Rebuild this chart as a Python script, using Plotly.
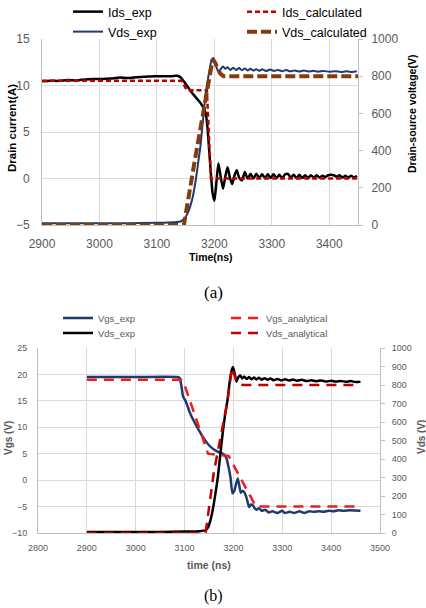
import plotly.graph_objects as go

# ---------------- (a) data ----------------
t_ids_exp = [2900,2915,2930,2945,2960,2975,2990,3005,3020,3035,3050,3065,3080,3095,3110,3125,3135,3141,3146,3152,
             3160,3168,3175,3181,3185,3188,3191,3194,3197,3200,3203,3207,3211,3215,3219,3223,3227,3231,3235,3239,
             3243,3248,3253,3258,3263,3268,3273,3278,3283,3288,3293,3298,3303,3308,3313,3318,3323,3328,3333,3338,
             3343,3348,3353,3358,3363,3368,3373,3378,3383,3388,3393,3398,3403,3408,3413,3418,3423,3428,3433,3438,
             3443,3448]
ids_exp = [10.45,10.5,10.5,10.6,10.55,10.65,10.7,10.7,10.75,10.85,10.8,10.9,10.95,11.0,11.0,11.0,11.05,10.9,10.5,10.0,
           9.3,8.7,8.2,7.6,7.0,5.5,3.0,0.5,-1.6,-2.4,-0.8,1.6,0.2,-1.1,0.2,1.2,0.1,-0.6,0.3,0.9,
           0.1,-0.2,0.7,0.0,0.5,0.0,0.5,0.05,0.45,0.05,0.45,0.05,0.45,0.05,0.4,0.05,0.45,0.5,0.1,0.4,
           0.05,0.4,0.05,0.35,0.05,0.35,0.1,0.35,0.1,0.3,0.15,0.35,0.4,0.35,0.2,0.35,0.1,0.3,0.1,0.3,
           0.1,0.3]

t_vds_exp_a = [2900,2950,3000,3050,3100,3130,3142,3148,3153,3158,3163,3168,3172,3176,3180,3184,3188,3192,3195,3198,
               3201,3204,3207,3211,3215,3219,3223,3228,3233,3238,3243,3248,3253,3258,3263,3268,3273,3278,3283,3290,
               3297,3304,3311,3318,3325,3332,3340,3348,3356,3364,3372,3380,3390,3400,3410,3420,3430,3440,3448]
vds_exp_a = [10,10,10,10,12,15,20,35,60,100,160,250,340,430,560,680,770,840,885,898,
             880,845,825,838,852,840,848,834,846,833,844,832,842,831,840,830,838,829,837,828,
             836,828,834,827,833,826,831,825,830,825,829,824,828,824,827,823,826,823,826]

t_ids_calc = [2900,3143,3152,3187,3194,3450]
ids_calc = [10.5,10.5,9.5,9.5,0,0]

t_vds_calc = [2900,3147,3165,3180,3190,3197,3201,3205,3210,3216,3450]
vds_calc = [0,0,330,580,770,890,875,845,815,800,800]

# ---------------- (b) data ----------------
t_vgs_exp = [2900,3000,3085,3090,3094,3097,3102,3106,3112,3120,3130,3140,3150,3160,3170,3180,3185,3190,3194,3198,
             3202,3206,3209,3212,3215,3219,3223,3227,3232,3236,3240,3244,3248,3252,3258,3265,3272,3280,3290,3300,
             3305,3315,3325,3335,3345,3355,3365,3375,3385,3395,3405,3415,3425,3440,3460]
vgs_exp = [19.5,19.5,19.5,19.3,17.5,15.8,15.0,14.0,12.5,11.0,9.3,7.8,6.6,5.8,5.3,4.9,4.3,2.5,0.5,-2.5,
           -2.0,-0.5,0.3,-1.0,-2.4,-2.0,-2.4,-3.4,-5.1,-4.6,-4.8,-5.4,-5.6,-5.3,-5.8,-5.6,-6.1,-5.9,-6.2,-5.8,
           -6.2,-6.0,-6.2,-5.9,-6.2,-5.9,-6.0,-5.9,-6.0,-5.8,-5.9,-5.7,-5.8,-5.7,-5.8]

t_vds_exp_b = [2900,2950,3000,3050,3100,3130,3143,3148,3153,3158,3163,3168,3173,3178,3183,3188,3192,3196,3199,3202,
               3206,3210,3214,3218,3222,3227,3232,3237,3242,3247,3252,3258,3264,3270,3276,3282,3290,3298,3306,3314,
               3322,3330,3340,3350,3360,3370,3380,3390,3400,3410,3420,3430,3440,3450,3460]
vds_exp_b = [5,5,6,6,8,10,15,30,70,130,210,300,420,540,640,720,810,875,897,870,
             818,842,852,835,846,832,843,831,841,830,839,829,837,828,835,826,833,825,831,824,
             830,823,828,821,826,820,825,819,823,818,822,817,821,816,818]

t_vgs_an = [2900,3093,3100,3148,3165,3190,3246,3455]
vgs_an = [19,19,18,5,4.8,4.6,-5,-5]

t_vds_an = [2900,3143,3160,3176,3187,3197,3205,3215,3455]
vds_an = [0,0,330,550,700,892,830,800,800]

W, H = 426, 608
def py(y):
    return 1 - y / H
def px(x):
    return x / W

NAVY = "#1F3A6E"
fig = go.Figure()

# (a)
fig.add_trace(go.Scatter(x=t_ids_exp, y=ids_exp, name="Ids_exp", mode="lines", showlegend=True,
                         line=dict(color="#000000", width=2.5, shape="spline", smoothing=0.6),
                         xaxis="x", yaxis="y", legend="legend"))
fig.add_trace(go.Scatter(x=t_ids_calc, y=ids_calc, name="Ids_calculated", mode="lines", showlegend=True,
                         line=dict(color="#C00000", width=2.5, dash="5px,3px"),
                         xaxis="x", yaxis="y", legend="legend2"))
fig.add_trace(go.Scatter(x=t_vds_exp_a, y=vds_exp_a, name="Vds_exp", mode="lines", showlegend=True,
                         line=dict(color=NAVY, width=2, shape="spline", smoothing=0.6),
                         xaxis="x", yaxis="y2", legend="legend3"))
fig.add_trace(go.Scatter(x=t_vds_calc, y=vds_calc, name="Vds_calculated", mode="lines", showlegend=True,
                         line=dict(color="#843C0C", width=4, dash="10px,4px"),
                         xaxis="x", yaxis="y2", legend="legend4"))

# (b)
fig.add_trace(go.Scatter(x=t_vgs_exp, y=vgs_exp, name="Vgs_exp", mode="lines", showlegend=True,
                         line=dict(color=NAVY, width=2.5, shape="spline", smoothing=0.5),
                         xaxis="x2", yaxis="y3", legend="legend5"))
fig.add_trace(go.Scatter(x=t_vgs_an, y=vgs_an, name="Vgs_analytical", mode="lines", showlegend=True,
                         line=dict(color="#EE1C1C", width=2.5, dash="10px,7px"),
                         xaxis="x2", yaxis="y3", legend="legend6"))
fig.add_trace(go.Scatter(x=t_vds_exp_b, y=vds_exp_b, name="Vds_exp", mode="lines", showlegend=True,
                         line=dict(color="#000000", width=2.5, shape="spline", smoothing=0.5),
                         xaxis="x2", yaxis="y4", legend="legend7"))
fig.add_trace(go.Scatter(x=t_vds_an, y=vds_an, name="Vds_analytical", mode="lines", showlegend=True,
                         line=dict(color="#C00000", width=2.5, dash="10px,7px"),
                         xaxis="x2", yaxis="y4", legend="legend8"))

GRID = "#D9D9D9"
AX = "#BFBFBF"
FONT = "Liberation Sans"
CLEAR = "rgba(0,0,0,0)"

common = dict(showgrid=True, gridcolor=GRID, gridwidth=1, zeroline=False,
              showline=True, linecolor=AX, linewidth=1, automargin=False)

def leg(x_leg, ycen, size, color):
    return dict(orientation="h", x=px(x_leg), y=py(ycen), xanchor="left", yanchor="middle",
                bgcolor=CLEAR, font=dict(size=size, color=color, family=FONT))

fig.update_layout(
    width=W, height=H, margin=dict(l=0, r=0, t=0, b=0, autoexpand=False),
    paper_bgcolor="white", plot_bgcolor="white", showlegend=True,
    font=dict(family=FONT, color="#595959"),
    xaxis=dict(domain=[px(42), px(358)], anchor="y", range=[2900, 3450],
               tickvals=[2900, 3000, 3100, 3200, 3300, 3400],
               ticks="outside", ticklen=8, tickcolor=CLEAR,
               tickfont=dict(size=12, color="#595959"), **common),
    yaxis=dict(domain=[py(225), py(39)], anchor="x", range=[-5, 15], dtick=5,
               ticks="outside", ticklen=9, tickcolor=CLEAR,
               tickfont=dict(size=12, color="#595959"), **common),
    yaxis2=dict(overlaying="y", side="right", anchor="x", range=[0, 1000], dtick=200,
                showgrid=False, zeroline=False, showline=True, linecolor=AX, automargin=False,
                ticks="outside", ticklen=4, tickcolor=AX,
                tickfont=dict(size=12, color="#595959"), ticklabelstandoff=6),
    xaxis2=dict(domain=[px(38), px(380)], anchor="y3", range=[2800, 3500], dtick=100,
                ticks="outside", ticklen=6, tickcolor=CLEAR,
                tickfont=dict(size=9, color="#595959"), **common),
    yaxis3=dict(domain=[py(533), py(348)], anchor="x2", range=[-10, 25], dtick=5,
                ticks="outside", ticklen=8, tickcolor=CLEAR,
                tickfont=dict(size=9, color="#595959"), **common),
    yaxis4=dict(overlaying="y3", side="right", anchor="x2", range=[0, 1000], dtick=100,
                showgrid=False, zeroline=False, showline=True, linecolor=AX, automargin=False,
                ticks="outside", ticklen=4, tickcolor=AX,
                tickfont=dict(size=9, color="#595959"), ticklabelstandoff=5),
    legend=leg(68, 12, 12.5, "#000000"),
    legend2=leg(242, 12, 12.5, "#000000"),
    legend3=leg(68, 32, 12.5, "#000000"),
    legend4=leg(242, 32, 12.5, "#000000"),
    legend5=leg(58, 318, 9.5, "#595959"),
    legend6=leg(226, 318, 9.5, "#595959"),
    legend7=leg(58, 333, 9.5, "#595959"),
    legend8=leg(226, 333, 9.5, "#595959"),
)

ann = [
    dict(text="<b>Drain current(A)</b>", x=px(12), y=py(128), textangle=-90,
         font=dict(size=11.5, color="#000000", family=FONT)),
    dict(text="<b>Drain-source voltage(V)</b>", x=px(412), y=py(114), textangle=-90,
         font=dict(size=10.5, color="#000000", family=FONT)),
    dict(text="<b>Time(ns)</b>", x=px(211), y=py(257),
         font=dict(size=10.5, color="#000000", family=FONT)),
    dict(text="(a)", x=px(213), y=py(293),
         font=dict(size=17, color="#000000", family="Liberation Serif")),
    dict(text="<b>Vgs (V)</b>", x=px(8), y=py(438), textangle=-90,
         font=dict(size=10, color="#595959", family=FONT)),
    dict(text="<b>Vds (V)</b>", x=px(421), y=py(437), textangle=-90,
         font=dict(size=10, color="#595959", family=FONT)),
    dict(text="<b>time (ns)</b>", x=px(209), y=py(565),
         font=dict(size=10.5, color="#595959", family=FONT)),
    dict(text="(b)", x=px(213), y=py(596),
         font=dict(size=16, color="#000000", family="Liberation Serif")),
]
for a in ann:
    a.update(xref="paper", yref="paper", showarrow=False, xanchor="center", yanchor="middle")
fig.update_layout(annotations=ann)

fig.write_html("out.html")
